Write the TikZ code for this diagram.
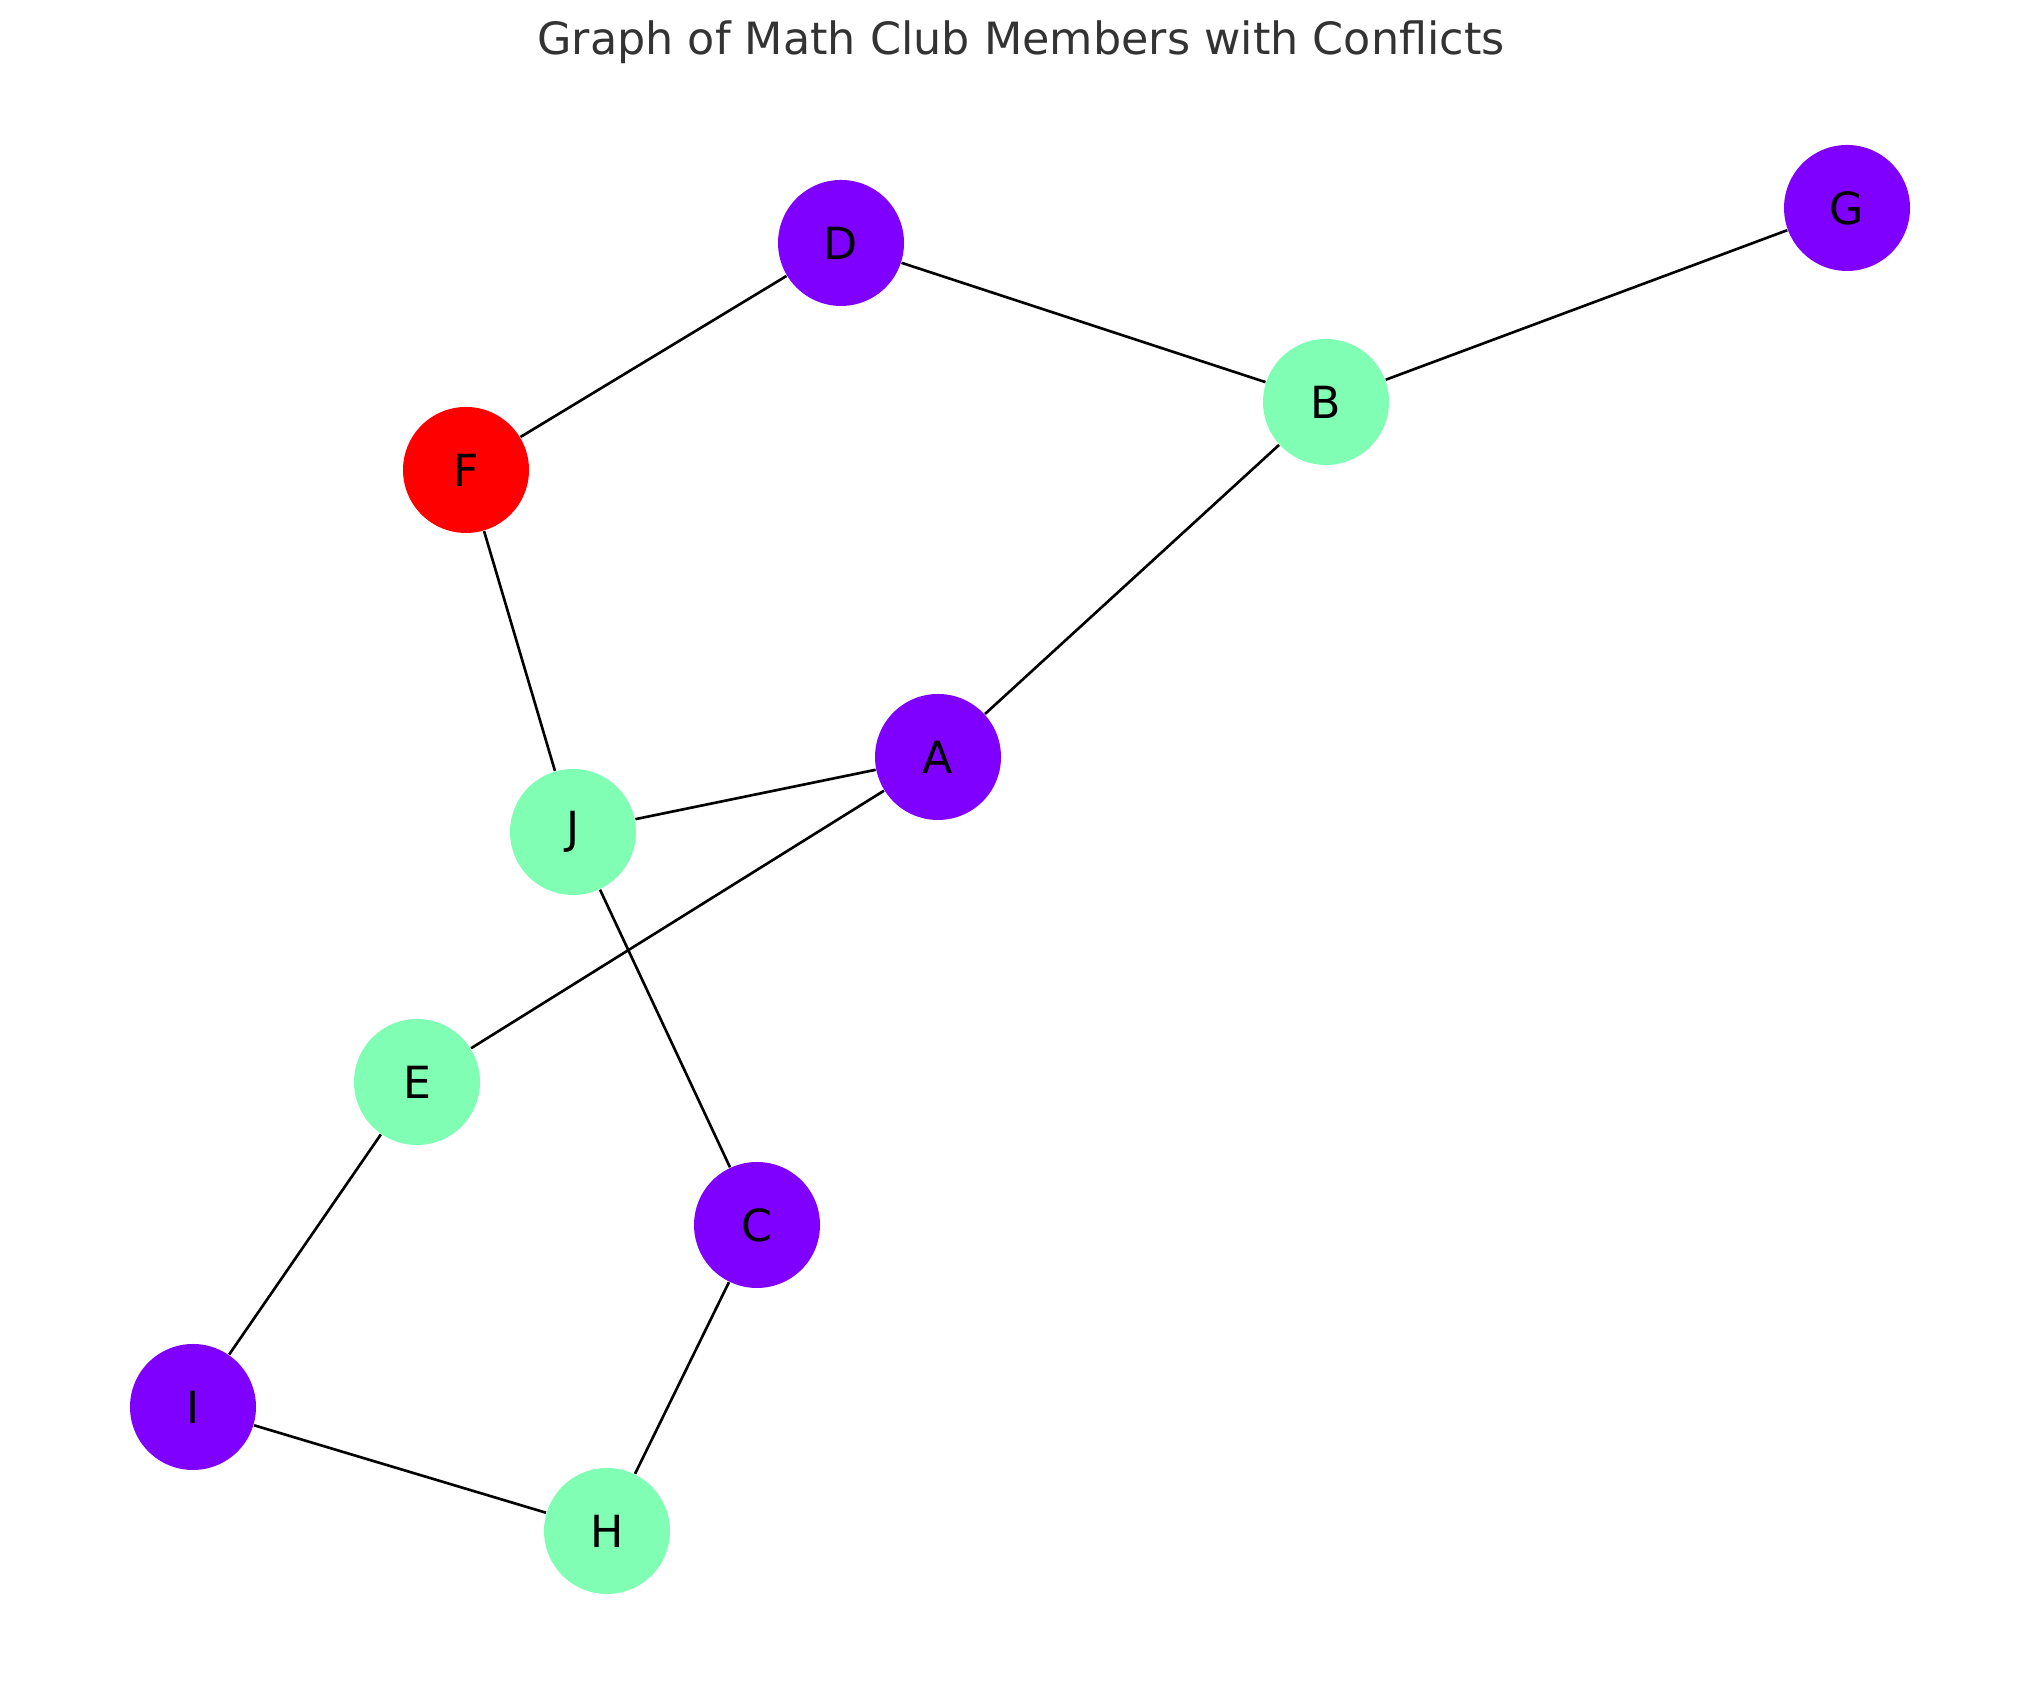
\documentclass[tikz,border=0pt]{standalone}
\usepackage{fontspec}
\setmainfont{DejaVu Sans}
\definecolor{violetnode}{HTML}{8000FF}
\definecolor{mintnode}{HTML}{80FEB4}
\definecolor{rednode}{HTML}{FF0000}
\definecolor{titlegray}{HTML}{333333}
\tikzset{
  member/.style={circle,minimum size=1.26cm,inner sep=0pt,font=\fontsize{12.6}{15}\selectfont},
  vnode/.style={member,fill=violetnode},
  mnode/.style={member,fill=mintnode},
  rnode/.style={member,fill=rednode},
  conflict/.style={line width=0.75pt,black}
}
\begin{document}
\begin{tikzpicture}
\useasboundingbox (0,0) rectangle (20.39,16.90);
\node[anchor=base,text=titlegray,font=\fontsize{12.65}{15}\selectfont] (title) at (10.21,16.35) {Graph of Math Club Members with Conflicts};
\node[vnode] (a) at (9.38,9.33) {A};
\node[mnode] (b) at (13.26,12.88) {B};
\node[vnode] (c) at (7.57,4.65) {C};
\node[vnode] (d) at (8.41,14.47) {D};
\node[mnode] (e) at (4.17,6.08) {E};
\node[rnode] (f) at (4.66,12.20) {F};
\node[vnode] (g) at (18.47,14.82) {G};
\node[mnode] (h) at (6.07,1.59) {H};
\node[vnode] (i) at (1.93,2.83) {I};
\node[mnode] (j) at (5.73,8.58) {J};
\draw[conflict] (d)--(f);\draw[conflict] (d)--(b);\draw[conflict] (b)--(g);\draw[conflict] (b)--(a);
\draw[conflict] (f)--(j);\draw[conflict] (j)--(a);\draw[conflict] (a)--(e);\draw[conflict] (j)--(c);
\draw[conflict] (e)--(i);\draw[conflict] (i)--(h);\draw[conflict] (h)--(c);
\end{tikzpicture}
\end{document}
